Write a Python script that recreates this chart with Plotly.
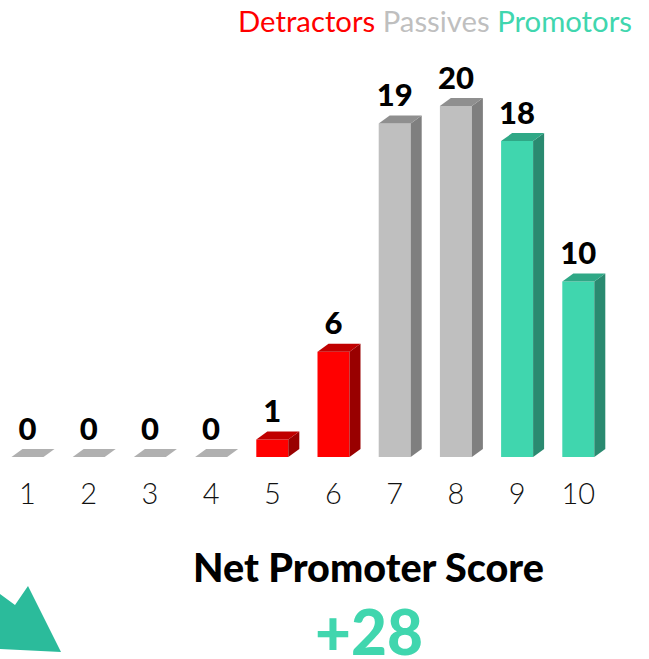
import plotly.graph_objects as go

W, H = 649, 659
scores = [1, 2, 3, 4, 5, 6, 7, 8, 9, 10]
counts = [0, 0, 0, 0, 1, 6, 19, 20, 18, 10]
groups = ["zero", "zero", "zero", "zero", "det", "det", "pas", "pas", "pro", "pro"]
front = {"det": "#FF0000", "pas": "#BFBFBF", "pro": "#40D6AE", "zero": "#B0B0B0"}
top = {"det": "#C00000", "pas": "#8F8F8F", "pro": "#2FA886", "zero": "#B0B0B0"}
side = {"det": "#990000", "pas": "#7F7F7F", "pro": "#2A8A70", "zero": "#B0B0B0"}
legend_names = ["Detractors", "Passives", "Promotors"]
legend_colors = ["#FF0000", "#BFBFBF", "#40D6AE"]
title_text = "Net Promoter Score"
score_text = "+28"

# Axis geometry: the x axis sits on the bar baseline
BASE_PX = 457
UNIT_PX = 17.55
STEP_PX = 61.2
X1_PX = 27.5
x_range = [1 - X1_PX / STEP_PX, 1 + (W - X1_PX) / STEP_PX]
y_range = [0, BASE_PX / UNIT_PX]
half = 16 / STEP_PX          # half of the front face width
dx = 11 / STEP_PX            # depth offset, x
dy = 8 / UNIT_PX             # depth offset, y

fig = go.Figure()

# side and top faces, derived from the values
for s, v, g in zip(scores, counts, groups):
    if v > 0:
        fig.add_trace(go.Scatter(
            x=[s + half, s + half + dx, s + half + dx, s + half, s + half],
            y=[0, dy, v + dy, v, 0],
            fill="toself", fillcolor=side[g], mode="lines", line=dict(width=0),
            hoverinfo="skip", showlegend=False))
    fig.add_trace(go.Scatter(
        x=[s - half, s + half, s + half + dx, s - half + dx, s - half],
        y=[v, v, v + dy, v + dy, v],
        fill="toself", fillcolor=top[g], mode="lines", line=dict(width=0),
        hoverinfo="skip", showlegend=False))

# front faces
fig.add_trace(go.Bar(
    x=scores, y=counts, width=2 * half,
    marker=dict(color=[front[g] for g in groups], line=dict(width=0)),
    showlegend=False))

# value labels
fig.add_trace(go.Scatter(
    x=scores, y=[c + 25 / UNIT_PX for c in counts], mode="text",
    text=[str(c) for c in counts], textposition="middle center",
    textfont=dict(family="Lato", size=31, color="#000000", weight=900),
    cliponaxis=False, showlegend=False))

legend_html = " ".join(
    f'<span style="color:{c}">{n}</span>' for n, c in zip(legend_names, legend_colors))


def paper_y(py):
    """Convert a pixel row to paper space of the plot area."""
    return (BASE_PX - py) / BASE_PX


annotations = [
    dict(text=legend_html, x=634 / W, y=paper_y(21), xref="paper", yref="paper",
         xanchor="right", yanchor="middle", showarrow=False,
         font=dict(family="Lato", size=29.3)),
    dict(text=title_text, x=369 / W, y=paper_y(566), xref="paper", yref="paper",
         xanchor="center", yanchor="middle", showarrow=False,
         font=dict(family="Lato", size=39.5, color="#000000", weight=900)),
    dict(text=score_text, x=369 / W, y=paper_y(631), xref="paper", yref="paper",
         xanchor="center", yanchor="middle", showarrow=False,
         font=dict(family="Lato", size=62, color="#40D6AE", weight=900)),
]

# decorative green shape in the lower left corner
mountain = [(0, 594), (15, 605), (28, 586), (61, 652), (0, 649)]
path = "M " + " L ".join(f"{px / W},{paper_y(py)}" for px, py in mountain) + " Z"

fig.update_layout(
    width=W, height=H, autosize=False,
    margin=dict(l=0, r=0, t=0, b=H - BASE_PX, pad=0),
    paper_bgcolor="#FFFFFF", plot_bgcolor="#FFFFFF",
    showlegend=False, barmode="overlay",
    annotations=annotations,
    shapes=[dict(type="path", path=path, xref="paper", yref="paper",
                 fillcolor="#2BBB9B", line=dict(width=0), layer="above")],
    xaxis=dict(range=x_range, tickmode="array", tickvals=scores,
               ticktext=[str(s) for s in scores], showgrid=False, zeroline=False,
               showline=False, ticks="outside", ticklen=11, tickcolor="rgba(0,0,0,0)",
               tickfont=dict(family="Lato", size=29, color="#111111", weight=300)),
    yaxis=dict(range=y_range, visible=False),
)

fig.write_html("out.html", config={"displayModeBar": False},
               post_script="document.body.style.margin='0';document.documentElement.style.overflow='hidden';")
